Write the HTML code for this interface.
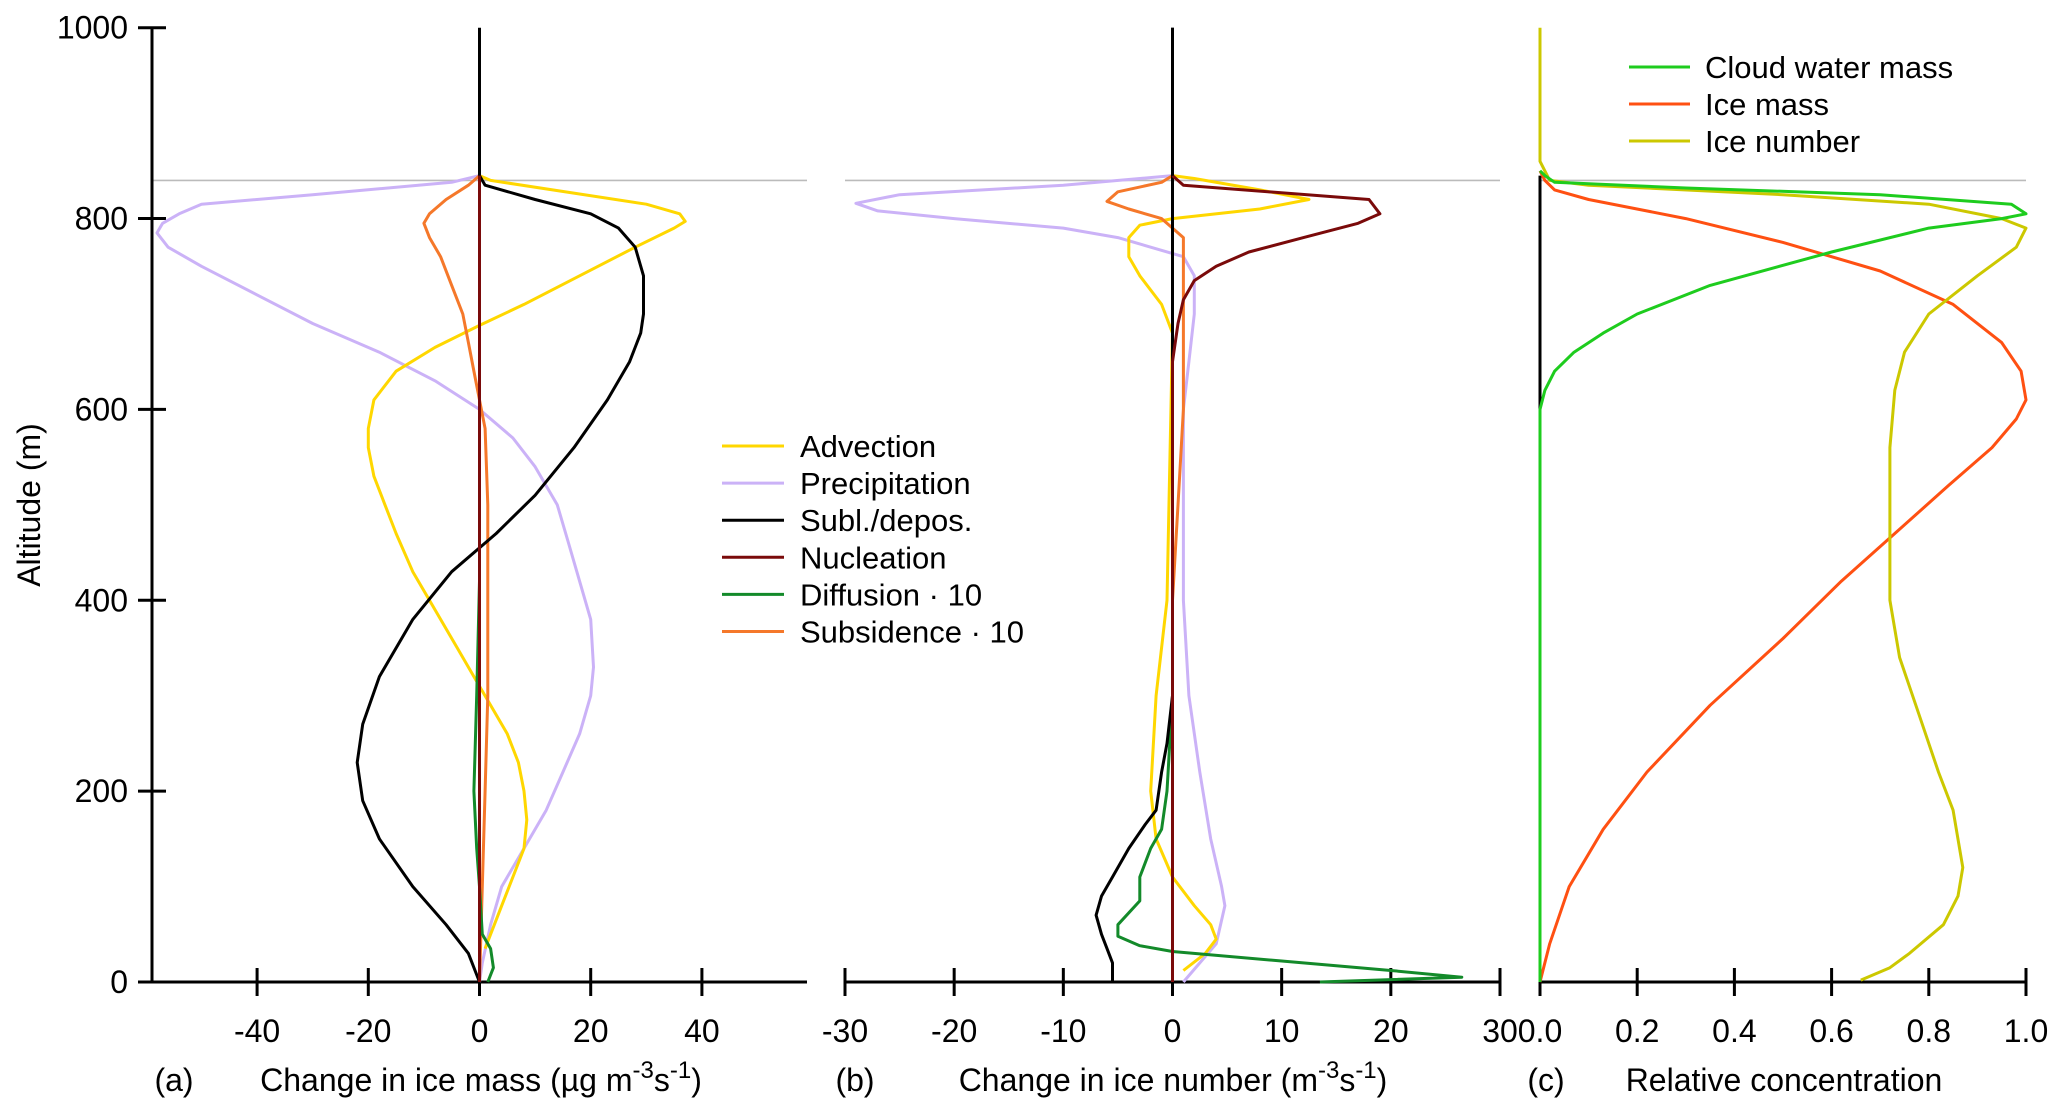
<!DOCTYPE html>
<html><head><meta charset="utf-8"><style>
html,body{margin:0;padding:0;background:#fff;}
svg{display:block;font-family:"Liberation Sans",Arial,sans-serif;}
</style></head><body>
<svg id="chart" width="2067" height="1115" viewBox="0 0 2067 1115" xmlns="http://www.w3.org/2000/svg"></svg>
<script>
// ---- data (altitude in m) ----
const altTicks=[0,200,400,600,800,1000];
const aTicks=[-40,-20,0,20,40];
const bTicks=[-30,-20,-10,0,10,20,30];
const cTicks=[0.0,0.2,0.4,0.6,0.8,1.0];
// panel a: [value, altitude]
const aAdvection=[[0,845],[2,840],[30,815],[36,805],[37,797],[35,790],[28,770],[18,740],[8,710],[0,688],[-8,665],[-15,640],[-19,610],[-20,580],[-20,560],[-19,530],[-17,500],[-15,470],[-12,430],[-8,390],[-4,350],[-1,320],[2,290],[5,260],[7,230],[8,200],[8.5,170],[8,140],[6,110],[4,80],[2,50],[1,35]];
const aPrecip=[[0,845],[-5,838],[-30,825],[-50,815],[-54,805],[-57,795],[-58,785],[-56,770],[-50,750],[-40,720],[-30,690],[-18,660],[-8,630],[0,600],[6,570],[10,540],[14,500],[16,460],[18,420],[20,380],[20.5,330],[20,300],[18,260],[15,220],[12,180],[8,140],[4,100],[2,60],[0.5,20],[0,0]];
const aSubl=[[0,1000],[0,845],[1,835],[10,820],[20,805],[25,790],[28,770],[29.5,740],[29.5,700],[29,680],[27,650],[23,610],[17,560],[10,510],[3,470],[-5,430],[-12,380],[-18,320],[-21,270],[-22,230],[-21,190],[-18,150],[-12,100],[-6,60],[-2,30],[0,0]];
const aNucl=[[0,845],[0,0]];
const aDiff=[[0,420],[-0.5,300],[-1,200],[-0.5,140],[0,100],[0.5,50],[2,35],[2.5,15],[1.5,0]];
const aSubs=[[0,845],[-2,835],[-6,820],[-9,805],[-10,795],[-9,780],[-7,760],[-5,730],[-3,700],[-2,670],[-1,640],[0,610],[1,580],[1.5,500],[1.5,300],[1,200],[0.5,100],[0,0]];
// panel b
const bPrecip=[[0,845],[-10,835],[-25,825],[-29,816],[-27,808],[-20,800],[-10,790],[-5,780],[-2,770],[1,760],[2,740],[2,700],[1.5,650],[1,600],[1,400],[1.5,300],[2.5,220],[3.5,150],[4.5,100],[4.8,80],[4,40],[2.5,20],[1,0]];
const bAdvection=[[0,845],[2,842],[8,830],[12.5,820],[8,810],[0,800],[-3,793],[-4,780],[-4,760],[-3,740],[-1,710],[0,680],[-0.5,400],[-1.5,300],[-2,200],[-1.5,150],[0,110],[2,80],[3.5,60],[4,45],[3,30],[1,12]];
const bSubl=[[0,1000],[0,300],[-0.5,250],[-1,220],[-1.5,180],[-2.5,165],[-4,140],[-5.5,110],[-6.5,90],[-7,70],[-6.5,50],[-6,35],[-5.5,20],[-5.5,0]];
const bNucl=[[0,845],[1,835],[18,820],[19,805],[17,795],[12,780],[7,765],[4,750],[2,735],[1,715],[0.5,690],[0,650],[0,0]];
const bDiff=[[0,300],[-0.5,200],[-1,160],[-2,140],[-3,110],[-3,85],[-5,60],[-5,48],[-3,38],[0,32],[10,22],[20,12],[26.5,5],[13.5,0]];
const bSubs=[[0,845],[-1,838],[-5,828],[-6,818],[-4,810],[-1,800],[0,790],[1,780],[1,600],[0.5,500],[0,400],[0,0]];
// panel c
const cCloud=[[0,0],[0,600],[0.01,620],[0.03,640],[0.07,660],[0.13,680],[0.2,700],[0.35,730],[0.6,765],[0.8,790],[0.95,800],[1.0,805],[0.97,815],[0.7,825],[0.3,832],[0.03,838],[0.01,845],[0,850]];
const cIceMass=[[0,0],[0.02,40],[0.06,100],[0.13,160],[0.22,220],[0.35,290],[0.5,360],[0.62,420],[0.73,470],[0.84,520],[0.93,560],[0.98,590],[1.0,610],[0.99,640],[0.95,670],[0.85,710],[0.7,745],[0.5,775],[0.3,800],[0.1,820],[0.03,830],[0.01,840],[0,850]];
const cIceNum=[[0,1000],[0,860],[0.02,840],[0.1,835],[0.5,825],[0.8,815],[0.95,800],[1.0,790],[0.98,770],[0.9,740],[0.8,700],[0.75,660],[0.73,620],[0.72,560],[0.72,400],[0.74,340],[0.78,280],[0.82,220],[0.85,180],[0.87,120],[0.86,90],[0.83,60],[0.76,30],[0.72,15],[0.66,2]];
const cBlack=[[0,845],[0,0]];
const legendA=["Advection","Precipitation","Subl./depos.","Nucleation","Diffusion · 10","Subsidence · 10"];
const legendC=["Cloud water mass","Ice mass","Ice number"];

const NS="http://www.w3.org/2000/svg";
const svg=document.getElementById('chart');
function el(tag,attrs,parent){const e=document.createElementNS(NS,tag);for(const k in attrs)e.setAttribute(k,attrs[k]);(parent||svg).appendChild(e);return e;}
const Y0=982,Y1=27.7;
function yScale(a){return Y0+(Y1-Y0)*a/1000;}
function mkX(px0,px1,d0,d1){return v=>px0+(px1-px0)*(v-d0)/(d1-d0);}
const xa=mkX(152,807,-58.9,58.9);
const xb=mkX(845,1500,-30,30);
const xc=mkX(1540,2026,0,1);
const C={adv:"#FFD700",pre:"#CBB2F7",sub:"#000000",nuc:"#7A0A0A",dif:"#138A2A",sbs:"#F5782A",cw:"#1ECC1E",im:"#FF5012",in:"#CCC800"};

function line(data,xs,color,name,w){
  const p=el('polyline',{points:data.map(d=>xs(d[0]).toFixed(1)+","+yScale(d[1]).toFixed(1)).join(" "),fill:"none",stroke:color,"stroke-width":w||3,"stroke-linejoin":"round"});
  
  
}
function text(x,y,s,name,anchor,size){const t=el('text',{x:x,y:y,"font-size":size||32,"text-anchor":anchor||"middle",fill:"#000"});t.textContent=s;return t;}

// grey cloud-top lines
[[152,807],[845,1500],[1540,2026]].forEach((r,i)=>{const g=el('line',{x1:r[0],x2:r[1],y1:yScale(840),y2:yScale(840),stroke:"#bbb","stroke-width":1.6});});

// y axis
const ya=el('line',{x1:152,x2:152,y1:Y1,y2:Y0,stroke:"#000","stroke-width":3});

altTicks.forEach(v=>{const t=el('line',{x1:138,x2:166,y1:yScale(v),y2:yScale(v),stroke:"#000","stroke-width":3});text(128,yScale(v)+11,String(v),'y-tick-label','end');});
const yt=text(0,0,"Altitude (m)",'y-axis-title','middle',32);yt.setAttribute('transform','translate(40,505) rotate(-90)');

// x axes
function xAxis(px0,px1,ticks,xs,fmt,name){
  const a=el('line',{x1:px0,x2:px1,y1:Y0,y2:Y0,stroke:"#000","stroke-width":3});
  ticks.forEach(v=>{const t=el('line',{x1:xs(v),x2:xs(v),y1:Y0-14,y2:Y0+14,stroke:"#000","stroke-width":3});text(xs(v),Y0+60,fmt(v),'x-tick-label');});
}
xAxis(152,807,aTicks,xa,v=>String(v),'x-axis-a');
xAxis(845,1500,bTicks,xb,v=>String(v),'x-axis-b');
xAxis(1540,2026,cTicks,xc,v=>v.toFixed(1),'x-axis-c');

// panel a series
line(aPrecip,xa,C.pre,'precipitation-a');
line(aAdvection,xa,C.adv,'advection-a');
line(aSubs,xa,C.sbs,'subsidence-a');
line(aDiff,xa,C.dif,'diffusion-a');
line(aSubl,xa,C.sub,'subl-depos-a');
line(aNucl,xa,C.nuc,'nucleation-a');
// panel b
line(bPrecip,xb,C.pre,'precipitation-b');
line(bAdvection,xb,C.adv,'advection-b');
line(bSubs,xb,C.sbs,'subsidence-b');
line(bDiff,xb,C.dif,'diffusion-b');
line(bSubl,xb,C.sub,'subl-depos-b');
line(bNucl,xb,C.nuc,'nucleation-b');
line([[0,1000],[0,845]],xb,C.sub,'subl-depos-b-top');
// panel c
line(cBlack,xc,"#000",'zero-line-c');
line(cIceMass,xc,C.im,'ice-mass-c');
line(cIceNum,xc,C.in,'ice-number-c');
line(cCloud,xc,C.cw,'cloud-water-c');

// legends
const colA=[C.adv,C.pre,C.sub,C.nuc,C.dif,C.sbs];
legendA.forEach((s,i)=>{const y=446+i*37.1;const g=el('g',{});
  el('line',{x1:722,x2:784,y1:y,y2:y,stroke:colA[i],"stroke-width":3},g);
  const t=el('text',{x:800,y:y+11,"font-size":31},g);t.textContent=s;});
const colC=[C.cw,C.im,C.in];
legendC.forEach((s,i)=>{const y=67+i*37;const g=el('g',{});
  el('line',{x1:1629,x2:1690,y1:y,y2:y,stroke:colC[i],"stroke-width":3},g);
  const t=el('text',{x:1705,y:y+11,"font-size":31},g);t.textContent=s;});

// bottom labels
text(174,1091,"(a)",'panel-label-a');
const ta=text(481,1091,"",'x-axis-title-a');ta.innerHTML='Change in ice mass (µg m<tspan dy="-13" font-size="24">-3</tspan><tspan dy="13">s</tspan><tspan dy="-13" font-size="24">-1</tspan><tspan dy="13">)</tspan>';
text(855,1091,"(b)",'panel-label-b');
const tb=text(1173,1091,"",'x-axis-title-b');tb.innerHTML='Change in ice number (m<tspan dy="-13" font-size="24">-3</tspan><tspan dy="13">s</tspan><tspan dy="-13" font-size="24">-1</tspan><tspan dy="13">)</tspan>';
text(1546,1091,"(c)",'panel-label-c');
text(1784,1091,"Relative concentration",'x-axis-title-c');
</script>
</body></html>
